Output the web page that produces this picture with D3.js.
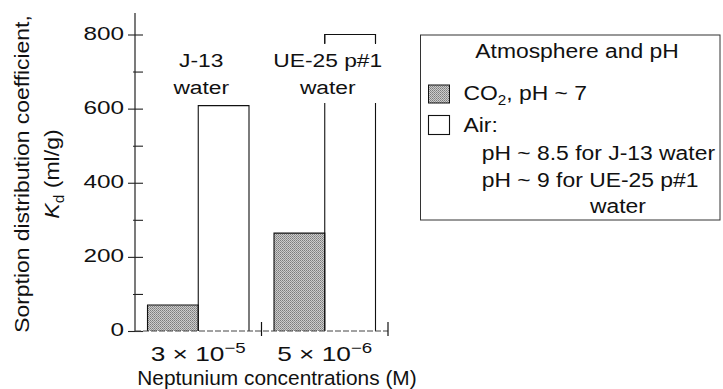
<!DOCTYPE html>
<html>
<head>
<meta charset="utf-8">
<script src="https://cdn.jsdelivr.net/npm/d3@7"></script>
<style>
  html, body { margin: 0; padding: 0; background: #fff; }
  svg { display: block; }
</style>
</head>
<body>
<div id="chart"></div>
<script>
// ---- data ----
const concMantissa = ["3", "5"];
const concExponent = ["\u22125", "\u22126"];
const groups = ["3e-5", "5e-6"];
const waterLabels = [["J-13", "water"], ["UE-25 p#1", "water"]];
const seriesNames = ["CO2", "Air"];
const co2Values = [70, 264];
const airValues = [608, 800];
const yTicksMajor = [0, 200, 400, 600, 800];
const yTicksMinor = [100, 300, 500, 700];
const legendTitle = "Atmosphere and pH";
const legendAirLines = ["pH ~ 8.5 for J-13 water", "pH ~ 9 for UE-25 p#1", "water"];

const W = 723, H = 389;
const svg = d3.select("#chart").append("svg")
  .attr("width", W).attr("height", H)
  .attr("font-family", "'Liberation Sans', Arial, Helvetica, sans-serif")
  .style("fill", "#111");

const defs = svg.append("defs");
const pat = defs.append("pattern").attr("id", "stip")
  .attr("width", 2).attr("height", 2).attr("patternUnits", "userSpaceOnUse");
pat.append("rect").attr("width", 2).attr("height", 2).attr("fill", "#cccccc");
pat.append("rect").attr("x", 0).attr("y", 0).attr("width", 1).attr("height", 1).attr("fill", "#7c7c7c");
pat.append("rect").attr("x", 1).attr("y", 1).attr("width", 1).attr("height", 1).attr("fill", "#929292");

function txt(parent, x, y, size, sx, anchor, rot) {
  return parent.append("text")
    .attr("transform", `translate(${x},${y})` + (rot ? ` rotate(${rot})` : "") + ` scale(${sx},1)`)
    .attr("font-size", size)
    .attr("text-anchor", anchor)
    .attr("fill", "#111");
}

// ---- scales ----
const axisX = 135, baseY = 331, topY = 34.5;
const y = d3.scaleLinear().domain([0, 800]).range([baseY, topY]);
const x0 = d3.scaleBand().domain(groups).range([axisX, 388]).padding(0);
const x1 = d3.scaleBand().domain(seriesNames).range([12.5, x0.bandwidth() - 12.5]).padding(0);

// ---- bars ----
const barData = [];
groups.forEach((g, i) => {
  barData.push({ g, s: "CO2", v: co2Values[i] });
  barData.push({ g, s: "Air", v: airValues[i] });
});
const bars = svg.append("g");
bars.selectAll("rect").data(barData).join("rect")
  .attr("x", d => x0(d.g) + x1(d.s))
  .attr("y", d => y(d.v))
  .attr("width", x1.bandwidth())
  .attr("height", d => y(0) - y(d.v))
  .attr("fill", d => d.s === "CO2" ? "url(#stip)" : "#fff");
bars.selectAll("path").data(barData).join("path")
  .attr("d", d => {
    const xl = x0(d.g) + x1(d.s), xr = xl + x1.bandwidth();
    return `M${xl},${y(0)}V${y(d.v)}H${xr}V${y(0)}`;
  })
  .attr("fill", "none").attr("stroke", "#111").attr("stroke-width", 1.1);

// ---- water labels (with white backing) ----
waterLabels.forEach((lines, i) => {
  const cx = x0(groups[i]) + x0.bandwidth() / 2 + 3;
  const g = svg.append("g");
  const bg = g.append("rect").attr("fill", "#fff");
  txt(g, cx, 66.5, 19, 1.2, "middle").text(lines[0]);
  txt(g, cx, 93.5, 19, 1.2, "middle").text(lines[1]);
  if (i === 1) {
    bg.attr("x", cx - 60).attr("width", 120).attr("y", 44).attr("height", 59);
  }
});

// ---- axes ----
const yAxisG = svg.append("g").attr("transform", `translate(${axisX},0)`);
yAxisG.call(d3.axisLeft(y).tickValues(yTicksMajor).tickSize(7).tickFormat(""));
yAxisG.append("g").call(d3.axisRight(y).tickValues(yTicksMajor.concat(yTicksMinor)).tickSize(8).tickFormat(""));
yAxisG.append("g").call(d3.axisLeft(y).tickValues(yTicksMinor).tickSize(2).tickFormat(""));
yAxisG.selectAll(".domain").remove();
yAxisG.selectAll("line").attr("stroke", "#222").attr("stroke-width", 1.1);
yAxisG.append("line").attr("x1", 0).attr("x2", 0).attr("y1", 13).attr("y2", baseY)
  .attr("stroke", "#222").attr("stroke-width", 1.2);

yTicksMajor.forEach(v => {
  txt(svg, 124, y(v) + 5, 19, 1.28, "end").text(String(v));
});

// x baseline (dashed)
svg.append("line").attr("x1", axisX).attr("x2", x0.range()[1]).attr("y1", baseY).attr("y2", baseY)
  .attr("stroke", "#444").attr("stroke-width", 1).attr("stroke-dasharray", "6,2");
// group separators
groups.forEach(g => {
  const xs = x0(g) + x0.bandwidth();
  svg.append("line").attr("x1", xs).attr("x2", xs).attr("y1", 322).attr("y2", 336)
    .attr("stroke", "#111").attr("stroke-width", 1.2);
});

// bracket on top of the off-scale bar
{
  const xl = x0(groups[1]) + x1("Air"), xr = xl + x1.bandwidth();
  svg.append("path").attr("d", `M${xl},${y(800) + 9}V${y(800)}H${xr}V${y(800) + 9}`)
    .attr("fill", "none").attr("stroke", "#111").attr("stroke-width", 1.1);
}

// x tick labels
groups.forEach((g, i) => {
  const cx = x0(g) + x0.bandwidth() / 2;
  const t = txt(svg, cx, 361, 21, 1.25, "middle");
  t.append("tspan").text(concMantissa[i] + " \u00d7 10");
  t.append("tspan").attr("font-size", 15).attr("dy", -8).text(concExponent[i]);
});

// axis titles
txt(svg, 277, 384.5, 19.5, 1.07, "middle").text("Neptunium concentrations (M)");
txt(svg, 28.5, 174, 21, 1.09, "middle", -90).text("Sorption distribution coefficient,");
{
  const t = txt(svg, 58.5, 174, 21, 1.1, "middle", -90);
  t.append("tspan").attr("font-style", "italic").text("K");
  t.append("tspan").attr("font-size", 14).attr("dy", 5).text("d");
  t.append("tspan").attr("dy", -5).text(" (ml/g)");
}

// ---- legend ----
const lg = svg.append("g");
lg.append("rect").attr("x", 420.5).attr("y", 35).attr("width", 299.5).attr("height", 185)
  .attr("fill", "#fff").attr("stroke", "#333").attr("stroke-width", 1);
txt(lg, 577, 58.3, 21, 1.09, "middle").text(legendTitle);
lg.append("rect").attr("x", 428.5).attr("y", 85).attr("width", 21).attr("height", 18)
  .attr("fill", "url(#stip)").attr("stroke", "#111").attr("stroke-width", 1);
lg.append("rect").attr("x", 428.5).attr("y", 115.5).attr("width", 21).attr("height", 19)
  .attr("fill", "#fff").attr("stroke", "#111").attr("stroke-width", 1.1);
{
  const t = txt(lg, 463.5, 100, 21, 1.09, "start");
  t.append("tspan").text("CO");
  t.append("tspan").attr("font-size", 14).attr("dy", 5).text("2");
  t.append("tspan").attr("dy", -5).text(", pH ~ 7");
}
txt(lg, 463.5, 131.7, 21, 1.09, "start").text("Air:");
txt(lg, 481.7, 160, 21, 1.09, "start").text(legendAirLines[0]);
txt(lg, 481.7, 186.7, 21, 1.09, "start").text(legendAirLines[1]);
txt(lg, 590, 213, 21, 1.09, "start").text(legendAirLines[2]);
</script>
</body>
</html>
